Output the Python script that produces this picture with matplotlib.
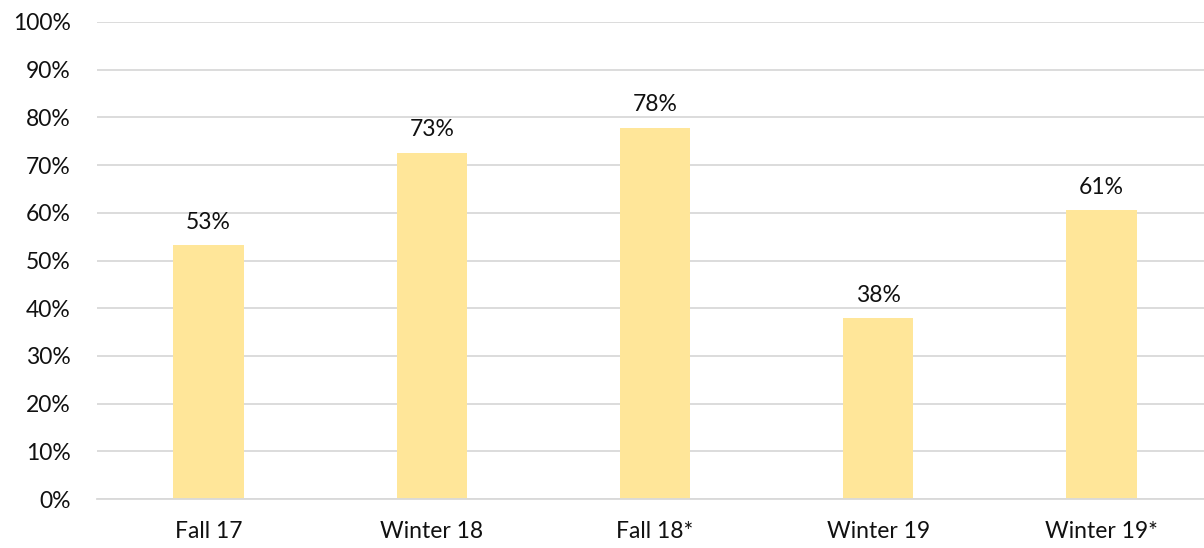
import matplotlib
matplotlib.use('Agg')
from matplotlib import pyplot as plt
from matplotlib.ticker import MultipleLocator, PercentFormatter

# Chart data
terms = ['Fall 17', 'Winter 18', 'Fall 18*', 'Winter 19', 'Winter 19*']
rates = [53.2, 72.6, 77.8, 37.9, 60.6]
labels = ['53%', '73%', '78%', '38%', '61%']

plt.rcParams['font.family'] = ['Lato', 'DejaVu Sans']

fig = plt.figure(figsize=(12.04, 5.48), dpi=100)
# plot area runs a bit past the right edge, like the original
ax = fig.add_axes([97/1204, 49/548, 1116/1204, 477/548])

x = range(len(terms))
bars = ax.bar(x, rates, width=0.315, color='#FFE699', zorder=2)
for b, lab in zip(bars, labels):
    ax.text(b.get_x() + b.get_width()/2, b.get_height() + 2.6, lab,
            ha='center', va='bottom', fontsize=16.5, color='#111111')

ax.set_xlim(-0.5, len(terms) - 0.5)
ax.set_ylim(0, 100)
ax.yaxis.set_major_locator(MultipleLocator(10))
ax.yaxis.set_major_formatter(PercentFormatter(decimals=0))
ax.set_xticks(list(x))
ax.set_xticklabels(terms)
ax.grid(axis='y', color='#D9D9D9', linewidth=1.3, zorder=0)
for s in ['top', 'right', 'left']:
    ax.spines[s].set_visible(False)
ax.spines['bottom'].set_color('#D9D9D9')
ax.spines['bottom'].set_linewidth(1.3)
ax.tick_params(axis='both', length=0, labelsize=16.5, colors='#111111')
ax.tick_params(axis='x', pad=16)
ax.tick_params(axis='y', pad=19)

fig.savefig('out.png', dpi=100)
